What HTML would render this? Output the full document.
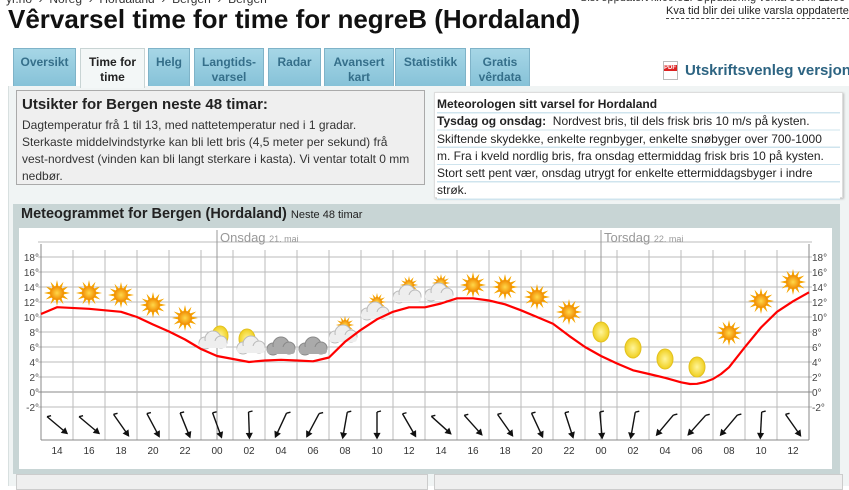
<!DOCTYPE html>
<html><head><meta charset="utf-8">
<style>
body{margin:0;width:849px;height:486px;overflow:hidden;background:#fff;font-family:"Liberation Sans",Arial,sans-serif;position:relative}
.a{position:absolute;white-space:nowrap}
.tab{position:absolute;top:48px;height:38px;background:linear-gradient(#a6d6e6,#86c2d8);border:1px solid #7fb3c8;border-bottom:none;color:#356f8a;font-size:12px;font-weight:bold;text-align:center;line-height:15px;box-sizing:border-box;padding-top:6px}
.tab.on{background:#f3f7f7;color:#222;height:40px;border-color:#c8d4d4}
</style></head><body>
<div class="a" style="left:6px;top:-8px;font-size:12px;color:#333">yr.no &nbsp;›&nbsp; Noreg &nbsp;›&nbsp; Hordaland &nbsp;›&nbsp; Bergen &nbsp;›&nbsp; Bergen</div>
<div class="a" style="left:580px;top:-8px;font-size:11px;color:#333">Sist oppdatert kl.09:51. Oppdatering venta 08. kl 11:00</div>
<div class="a" style="left:666px;top:5px;font-size:11px;color:#222;border-bottom:1px dashed #444;line-height:13px">Kva tid blir dei ulike varsla oppdaterte?</div>
<div class="a" style="left:8px;top:4px;font-size:26px;font-weight:bold;color:#111">Vêrvarsel time for time for negreB (Hordaland)</div>
<div style="position:absolute;left:8px;top:86px;width:841px;height:400px;background:#f0f4f4;border-left:1px solid #d8e0e0"></div>
<div class="tab" style="left:13px;width:63px">Oversikt</div>
<div class="tab on" style="left:80px;width:65px">Time for<br>time</div>
<div class="tab" style="left:148px;width:42px">Helg</div>
<div class="tab" style="left:194px;width:70px">Langtids-<br>varsel</div>
<div class="tab" style="left:268px;width:53px">Radar</div>
<div class="tab" style="left:324px;width:70px">Avansert<br>kart</div>
<div class="tab" style="left:395px;width:71px">Statistikk</div>
<div class="tab" style="left:470px;width:60px">Gratis<br>vêrdata</div>
<div class="a" style="left:663px;top:61px;width:13px;height:17px;background:#fff;border:1px solid #bbb;font-size:6px;color:#fff"><div style="background:#d22;margin-top:3px;font-weight:bold">PDF</div></div>
<div class="a" style="left:685px;top:62px;font-size:15px;font-weight:bold;color:#2d6482">Utskriftsvenleg versjon</div>
<div class="a" style="left:16px;top:90px;width:407px;height:93px;background:#efefef;border:1px solid #aaa;"></div>
<div class="a" style="left:22px;top:96px;font-size:15px;font-weight:bold;color:#222">Utsikter for Bergen neste 48 timar:</div>
<div class="a" style="left:22px;top:117px;font-size:12px;line-height:17px;color:#333">Dagtemperatur frå 1 til 13, med nattetemperatur ned i 1 gradar.<br>Sterkaste middelvindstyrke kan bli lett bris (4,5 meter per sekund) frå<br>vest-nordvest (vinden kan bli langt sterkare i kasta). Vi ventar totalt 0 mm<br>nedbør.</div>
<div class="a" style="left:434px;top:92px;width:407px;height:104px;background:#fff;border:1px solid #ddd;box-shadow:1px 1px 2px #bbb"></div>
<div class="a" style="left:437px;top:96px;font-size:12px;line-height:17.3px;color:#222;width:403px;background:repeating-linear-gradient(#fff 0 16px,#cfe4ee 16px 17.3px)"><b>Meteorologen sitt varsel for Hordaland</b><br><b>Tysdag og onsdag:</b>&nbsp; Nordvest bris, til dels frisk bris 10 m/s på kysten.<br>Skiftende skydekke, enkelte regnbyger, enkelte snøbyger over 700-1000<br>m. Fra i kveld nordlig bris, fra onsdag ettermiddag frisk bris 10 på kysten.<br>Stort sett pent vær, onsdag utrygt for enkelte ettermiddagsbyger i indre<br>strøk.</div>
<div class="a" style="left:13px;top:204px;width:827px;height:270px;background:#c8d5d5"></div>
<div class="a" style="left:21px;top:206px;font-size:14.5px;font-weight:bold;color:#222">Meteogrammet for Bergen (Hordaland) <span style="font-weight:normal;font-size:11px">Neste 48 timar</span></div>
<div class="a" style="left:16px;top:474px;width:410px;height:14px;background:#efefef;border:1px solid #ccc"></div>
<div class="a" style="left:434px;top:474px;width:407px;height:14px;background:#efefef;border:1px solid #ccc"></div>
<svg class="a" style="left:0;top:0" width="849" height="486" id="s">
<rect x="19" y="228" width="813" height="241" fill="#fff"/>
<g id="g"></g>
<g font-size="10" fill="#444" text-anchor="end">
<text x="39" y="261">18°</text><text x="39" y="276">16°</text><text x="39" y="291">14°</text><text x="39" y="306">12°</text><text x="39" y="321">10°</text><text x="39" y="336">8°</text><text x="39" y="351">6°</text><text x="39" y="366">4°</text><text x="39" y="381">2°</text><text x="39" y="396">0°</text><text x="39" y="411">-2°</text>
</g>
<g font-size="10" fill="#444">
<text x="812" y="261">18°</text><text x="812" y="276">16°</text><text x="812" y="291">14°</text><text x="812" y="306">12°</text><text x="812" y="321">10°</text><text x="812" y="336">8°</text><text x="812" y="351">6°</text><text x="812" y="366">4°</text><text x="812" y="381">2°</text><text x="812" y="396">0°</text><text x="812" y="411">-2°</text>
</g>
<g font-size="10" fill="#333" text-anchor="middle">
<text x="57" y="454">14</text><text x="89" y="454">16</text><text x="121" y="454">18</text><text x="153" y="454">20</text><text x="185" y="454">22</text><text x="217" y="454">00</text><text x="249" y="454">02</text><text x="281" y="454">04</text><text x="313" y="454">06</text><text x="345" y="454">08</text><text x="377" y="454">10</text><text x="409" y="454">12</text><text x="441" y="454">14</text><text x="473" y="454">16</text><text x="505" y="454">18</text><text x="537" y="454">20</text><text x="569" y="454">22</text><text x="601" y="454">00</text><text x="633" y="454">02</text><text x="665" y="454">04</text><text x="697" y="454">06</text><text x="729" y="454">08</text><text x="761" y="454">10</text><text x="793" y="454">12</text>
</g>
<text x="220" y="242" font-size="13" fill="#999">Onsdag <tspan font-size="9">21. mai</tspan></text>
<text x="604" y="242" font-size="13" fill="#999">Torsdag <tspan font-size="9">22. mai</tspan></text>
<g id="ic"></g>
<polyline fill="none" stroke="#f00" stroke-width="2.2" stroke-linejoin="round" points="41,314 57,307.2 89,308.8 121,311.8 137,317 153,324.5 169,331.5 185,339.5 201,349 217,356 233,359 249,362 265,360.5 281,359.8 297,360.5 313,361.3 329,357.5 345,341.8 361,329.8 377,319.3 393,311.8 409,307.3 425,307.3 441,303.5 457,298.3 473,298.3 489,300.5 505,304.3 521,310.3 537,317 553,323.8 569,335.8 585,347 601,356 617,363.5 633,370.3 649,374 665,377.8 681,382.3 690,384 697,383.8 705,382 713,379 721,374 729,367.3 745,347 761,327.5 777,311.8 793,301.3 809,292.3"/>
<g id="w" stroke="#111" stroke-width="1.4" fill="none"></g>
</svg>
<script>
var NS="http://www.w3.org/2000/svg";
function el(p,n,a){var e=document.createElementNS(NS,n);for(var k in a)e.setAttribute(k,a[k]);p.appendChild(e);return e}
var g=document.getElementById('g');
for(var T=-2;T<=20;T+=2){var y=392-7.5*T;el(g,'line',{x1:38,x2:812,y1:y,y2:y,stroke:T==0?'#888':'#bbb','stroke-width':1})}
for(var x=41;x<=809;x+=32){el(g,'line',{x1:x,x2:x,y1:250,y2:440,stroke:'#bbb','stroke-width':1})}
el(g,'line',{x1:41,x2:41,y1:244,y2:440,stroke:'#888'});el(g,'line',{x1:809,x2:809,y1:244,y2:440,stroke:'#888'});
el(g,'line',{x1:41,x2:809,y1:440,y2:440,stroke:'#888'});
el(g,'line',{x1:217,x2:217,y1:230,y2:440,stroke:'#999'});el(g,'line',{x1:601,x2:601,y1:230,y2:440,stroke:'#999'});
var ic=document.getElementById('ic');
var d=el(ic,'defs',{});
var rg=el(d,'radialGradient',{id:'sg'});el(rg,'stop',{offset:'0','stop-color':'#ffd84a'});el(rg,'stop',{offset:'1','stop-color':'#f08a00'});
var mg=el(d,'radialGradient',{id:'mg'});el(mg,'stop',{offset:'0','stop-color':'#fff59a'});el(mg,'stop',{offset:'1','stop-color':'#f0d020'});
function sun(cx,cy,s){s=s||1;var p=[];for(var i=0;i<24;i++){var r=i%2?6*s:13*s,a=i*Math.PI/12;p.push((cx+r*Math.sin(a)).toFixed(1)+','+(cy-r*Math.cos(a)).toFixed(1))}
el(ic,'polygon',{points:p.join(' '),fill:'#f5a400'});el(ic,'circle',{cx:cx,cy:cy,r:7*s,fill:'url(#sg)'})}
function moon(cx,cy){el(ic,'ellipse',{cx:cx,cy:cy,rx:8,ry:10,fill:'url(#mg)',stroke:'#e2c020'})}
function cloud(cx,cy,c,st){[[-8,3,6],[0,-1,8],[8,2,6]].forEach(function(q){el(ic,'circle',{cx:cx+q[0],cy:cy+q[1],r:q[2],fill:c,stroke:st})});el(ic,'rect',{x:cx-14,y:cy+1,width:28,height:7,rx:3,fill:c})}
var tx=function(t){return 217+16*t};
[[-10,293],[-8,293],[-6,295],[-4,305],[-2,318],[16,285],[18,287],[20,297],[22,312],[32,333],[34,301],[36,282]].forEach(function(a){sun(tx(a[0]),a[1])});
[[24,332],[26,348],[28,359],[30,367]].forEach(function(a){moon(tx(a[0]),a[1])});
moon(tx(0)+3,336);cloud(tx(0)-4,340,'#eee','#bbb');
moon(tx(2)-2,339);cloud(tx(2)+2,345,'#eee','#bbb');
cloud(tx(4),346,'#aaa','#888');cloud(tx(6),346,'#aaa','#888');
[[8,330],[10,307],[12,290],[14,288]].forEach(function(a){sun(tx(a[0]),a[1]-5,0.7);cloud(tx(a[0])-2,a[1]+4,'#eee','#bbb')});
var w=document.getElementById('w');
var ang=[50,50,35,28,22,20,2,-25,-28,-10,0,30,48,42,35,25,18,5,-10,-40,-42,-40,-3,35];
ang.forEach(function(a,i){var cx=tx(-10+2*i),cy=425,L=13,r=a*Math.PI/180,dx=Math.sin(r),dy=Math.cos(r);
var x1=cx-dx*L,y1=cy-dy*L,x2=cx+dx*L,y2=cy+dy*L;
el(w,'line',{x1:x1,y1:y1,x2:x2,y2:y2});
var h=5;function pt(o){return [x2-h*(dx*Math.cos(o)-dy*Math.sin(o)),y2-h*(dy*Math.cos(o)+dx*Math.sin(o))]}
var p1=pt(0.5),p2=pt(-0.5);el(w,'polygon',{points:x2+','+y2+' '+p1.join(',')+' '+p2.join(','),fill:'#111'});
el(w,'line',{x1:x1,y1:y1,x2:x1+4,y2:y1-1});
});
</script>
</body></html>
